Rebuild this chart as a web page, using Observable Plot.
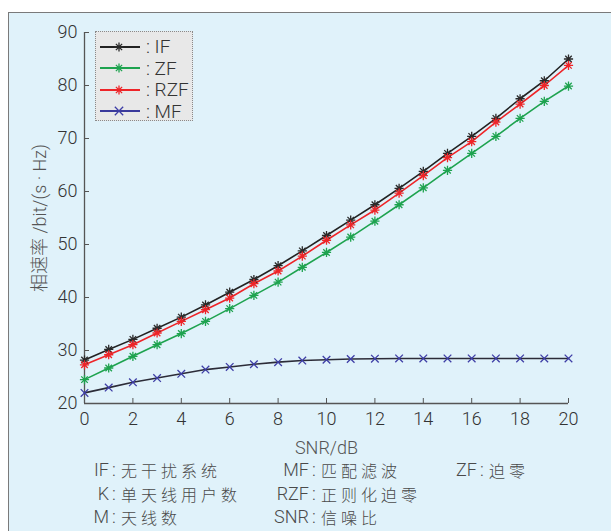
<!DOCTYPE html>
<html>
<head>
<meta charset="utf-8">
<script src="https://cdn.jsdelivr.net/npm/d3@7"></script>
<script src="https://cdn.jsdelivr.net/npm/@observablehq/plot@0.6"></script>
<style>
  html, body { margin: 0; padding: 0; background: #ffffff; width: 611px; height: 531px; overflow: hidden; }
  #panel { position: absolute; left: 8px; top: 12px; right: 0; bottom: 0;
           border-left: 1.5px solid #7a7a7a; border-top: 1.5px solid #7a7a7a; background: #e0f2fa; }
  #chart { position: absolute; left: 9px; top: 13px; }
  #legend { position: absolute; left: 95px; top: 31px; width: 96px; height: 88px;
            background: #e8e8e8; border: 1px dotted #8a8a8a; }
  .lg-row { position: absolute; left: 3px; height: 22px; display: flex; align-items: center; }
  .lg-row span { font-family: Roboto, "Liberation Sans", sans-serif; font-weight: 300; font-size: 19px; color: #333; margin-left: 6px; white-space: pre; }
  .cap { position: absolute; left: 0; height: 20px; font-family: Roboto, "Liberation Sans", "Noto Sans CJK SC", sans-serif; font-weight: 300; color: #4a4a4a; font-size: 18px; line-height: 20px; white-space: nowrap; }
  .cap span { position: absolute; top: 0; line-height: 20px; height: 20px; }
  .cap .lab { text-align: right; }
  .cap .txt { font-family: "Noto Sans CJK SC", sans-serif; font-weight: 300; font-size: 16px; letter-spacing: 4px; }
</style>
</head>
<body>
<div id="panel"></div>
<div id="chart"></div>
<div id="legend"></div>
<div id="caption"></div>
<script>
// ---- data ----
const snrDb = [0,1,2,3,4,5,6,7,8,9,10,11,12,13,14,15,16,17,18,19,20];
const seriesNames = ["IF", "ZF", "RZF", "MF"];
const rateIF  = [28.2,30.2,32.1,34.2,36.3,38.6,41.0,43.4,46.0,48.8,51.7,54.6,57.5,60.6,63.8,67.2,70.4,73.8,77.5,80.9,85.0];
const rateZF  = [24.5,26.7,28.9,31.1,33.2,35.5,37.9,40.4,42.9,45.7,48.5,51.4,54.4,57.5,60.7,64.0,67.2,70.4,73.8,77.0,79.9];
const rateRZF = [27.3,29.2,31.1,33.3,35.5,37.7,39.9,42.6,45.0,47.8,50.8,53.7,56.5,59.7,63.0,66.4,69.4,73.1,76.5,80.0,83.8];
const rateMF  = [22.0,23.0,24.0,24.8,25.6,26.4,26.9,27.4,27.8,28.1,28.25,28.4,28.45,28.5,28.5,28.5,28.5,28.5,28.5,28.5,28.5];
const xTicks = [0,2,4,6,8,10,12,14,16,18,20];
const yTicks = [20,30,40,50,60,70,80,90];
const captionAbbr = [["IF","MF","ZF"],["K","RZF"],["M","SNR"]];
const captionText = [["无干扰系统","匹配滤波","迫零"],["单天线用户数","正则化迫零"],["天线数","信噪比"]];

// ---- styles ----
const lineColors   = {IF: "#222222", ZF: "#1ea34f", RZF: "#ee2428", MF: "#2c2c38"};
const markerColors = {IF: "#2a2a2a", ZF: "#1ea34f", RZF: "#ee2428", MF: "#3e3ea6"};
const legendLine   = {IF: "#222222", ZF: "#1ea34f", RZF: "#ee2428", MF: "#3a3a9c"};

const asterisk = {
  draw(ctx, size) {
    const r = Math.sqrt(size / Math.PI), d = r * Math.SQRT1_2;
    ctx.moveTo(-r, 0); ctx.lineTo(r, 0);
    ctx.moveTo(0, -r); ctx.lineTo(0, r);
    ctx.moveTo(-d, -d); ctx.lineTo(d, d);
    ctx.moveTo(-d, d); ctx.lineTo(d, -d);
  }
};
const times = {
  draw(ctx, size) {
    const r = Math.sqrt(size / Math.PI) * 0.95;
    ctx.moveTo(-r, -r); ctx.lineTo(r, r);
    ctx.moveTo(-r, r); ctx.lineTo(r, -r);
  }
};
const symbols = {IF: asterisk, ZF: asterisk, RZF: asterisk, MF: times};

const valuesBySeries = {IF: rateIF, ZF: rateZF, RZF: rateRZF, MF: rateMF};
const rows = seriesNames.flatMap(s => snrDb.map((x, i) => ({series: s, snr: x, rate: valuesBySeries[s][i]})));

const font = "Roboto, 'Liberation Sans', 'Noto Sans CJK SC', sans-serif";

const chart = Plot.plot({
  width: 602,
  height: 442,
  marginLeft: 75,
  marginTop: 19,
  marginRight: 43,
  marginBottom: 52,
  style: {background: "transparent", fontFamily: font, fontSize: "18px", fontWeight: 300, color: "#333", overflow: "visible"},
  x: {domain: [0, 20]},
  y: {domain: [20, 90]},
  marks: [
    Plot.axisX({ticks: xTicks, tickSize: -5, tickPadding: 14, stroke: "#555", fill: "#333",
      label: "SNR/dB", labelAnchor: "center", labelArrow: false, labelOffset: 50}),
    Plot.axisY({ticks: yTicks, tickSize: -5, tickPadding: 12, stroke: "#555", fill: "#333",
      label: "相速率 /bit/(s · Hz)", labelAnchor: "center", labelArrow: false, labelOffset: 51}),
    Plot.ruleX([0], {stroke: "#555", strokeWidth: 1.3}),
    Plot.ruleY([20], {stroke: "#555", strokeWidth: 1.3}),
    Plot.line(rows, {x: "snr", y: "rate", z: "series", stroke: d => lineColors[d.series], strokeWidth: 1.6}),
    ...seriesNames.map(s => Plot.dot(rows.filter(d => d.series === s), {
      x: "snr", y: "rate", symbol: symbols[s], r: s === "MF" ? 4 : 4.6,
      stroke: markerColors[s], fill: "none", strokeWidth: 1.3
    }))
  ]
});
document.getElementById("chart").append(chart);
chart.querySelectorAll("g[aria-label='x-axis label'] text, g[aria-label='y-axis label'] text").forEach(t => t.setAttribute("fill", "#555"));

// ---- legend ----
const legend = document.getElementById("legend");
seriesNames.forEach((s, i) => {
  const row = document.createElement("div");
  row.className = "lg-row";
  row.style.top = (3.5 + i * 21.5) + "px";
  const svg = d3.create("svg").attr("width", 41).attr("height", 22);
  svg.append("line").attr("x1", 1).attr("x2", 41).attr("y1", 11).attr("y2", 11)
    .attr("stroke", legendLine[s]).attr("stroke-width", 1.8);
  svg.append("path").attr("d", d3.symbol().type(symbols[s]).size(Math.PI * 4.4 * 4.4)())
    .attr("transform", "translate(20,11)").attr("stroke", markerColors[s]).attr("fill", "none").attr("stroke-width", 1.3);
  row.append(svg.node());
  const sp = document.createElement("span");
  sp.textContent = ": " + s;
  row.append(sp);
  legend.append(row);
});

// ---- caption ----
const cap = document.getElementById("caption");
const colRight = [109, 309, 477];
const rowTop = [460, 483.5, 507];
captionAbbr.forEach((r, ri) => {
  r.forEach((ab, ci) => {
    const R = colRight[ci];
    const d = document.createElement("div");
    d.className = "cap";
    d.style.top = rowTop[ri] + "px";
    const lab = document.createElement("span");
    lab.className = "lab";
    lab.style.left = (R - 60) + "px";
    lab.style.width = "60px";
    lab.textContent = ab;
    const col = document.createElement("span");
    col.className = "col";
    col.style.left = (R + 3) + "px";
    col.textContent = ":";
    const tx = document.createElement("span");
    tx.className = "txt";
    tx.style.left = (R + 12) + "px";
    tx.textContent = captionText[ri][ci];
    d.append(lab, col, tx);
    cap.append(d);
  });
});
</script>
</body>
</html>
